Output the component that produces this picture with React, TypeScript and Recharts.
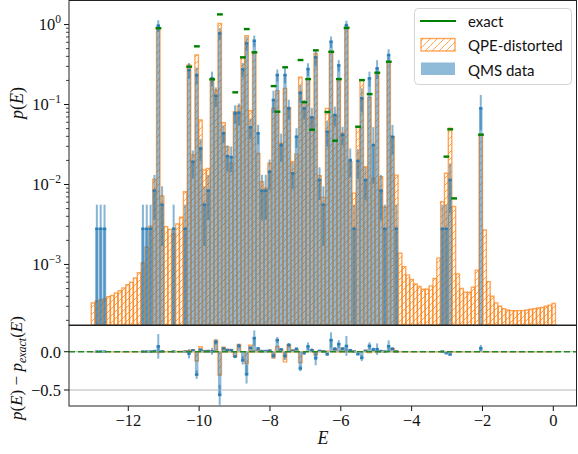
import React from 'react';
import { ComposedChart, Bar, XAxis, YAxis, ErrorBar, Scatter, ReferenceLine } from 'recharts';

// histogram bins (energy), bin i is centred at E_START + (i + 0.5) * BIN_W
const E_START = -13.045;
const BIN_W = 0.1084;
const X_DOMAIN: [number, number] = [-13.674, 0.669];
const P_MIN = 1.75e-4;
const P_MAX = 1.97;
const R_DOMAIN: [number, number] = [-0.709, 0.349];

// QPE-distorted distribution, one value per bin
const qpeDistorted = [
  3.3e-4, 3.5e-4, 3.6e-4, 3.7e-4, 3.96e-4, 4.1e-4, 4.4e-4, 4.7e-4, 5.1e-4, 5.6e-4,
  6.0e-4, 6.8e-4, 7.9e-4, 1.05e-3, 1.64e-3, 3.0e-3, 0.0116, 0.89, 7.2e-3, 2.97e-3,
  2.75e-3, 2.4e-3, 3.2e-3, 3.9e-3, 8.1e-3, 0.312, 0.0234, 0.416, 0.064, 0.0152,
  0.0159, 0.2125, 0.152, 1.035, 0.0592, 0.0297, 0.0184, 0.0813, 0.0958, 0.389,
  0.724, 0.0837, 0.457, 0.0245, 0.0108, 8.97e-3, 0.0184, 0.0896, 0.149, 0.0327,
  0.159, 0.092, 0.0193, 0.024, 0.219, 0.108, 0.208, 0.0704, 0.436, 0.0129,
  6.9e-3, 0.0896, 0.457, 0.074, 0.21, 0.0437, 0.912, 0.0193, 7.8e-3, 0.0528,
  0.202, 0.0167, 0.123, 0.012, 0.245, 0.0125, 5.2e-3, 0.343, 0.0396, 0.0131,
  1.38e-3, 9.4e-4, 7.4e-4, 6.5e-4, 5.7e-4, 5.3e-4, 4.9e-4, 4.9e-4, 5.4e-4, 6.7e-4,
  1.2e-3, 6.1e-3, 0.0138, 0.0504, 5.3e-3, 7.6e-4, 5.0e-4, 4.5e-4, 4.5e-4, 5.2e-4,
  8.5e-4, 0.0416, 2.7e-3, 6.1e-4, 4.0e-4, 3.3e-4, 3.0e-4, 2.8e-4, 2.7e-4, 2.65e-4,
  2.65e-4, 2.65e-4, 2.65e-4, 2.7e-4, 2.75e-4, 2.8e-4, 2.85e-4, 2.9e-4, 3.0e-4, 3.1e-4,
  3.25e-4,
];

// QMS data (null = no counts in that bin)
const qmsData = [
  null, 2.8e-3, 2.8e-3, 2.8e-3, null, null, null, null, null, null,
  null, null, null, 2.8e-3, 2.8e-3, 2.8e-3, 8.4e-3, 0.97, 5.6e-3, null,
  null, 2.8e-3, null, null, 2.8e-3, 0.27, 0.0193, 0.234, 0.0283, 5.6e-3,
  8.4e-3, 0.2125, 0.129, 0.776, 0.0437, 0.0227, 0.022, 0.0776, 0.079, 0.275,
  0.582, 0.0519, 0.627, 0.0437, 8.4e-3, 8.4e-3, 0.0145, 0.114, 0.234, 0.0312,
  0.234, 0.0896, 0.0138, 0.0396, 0.14, 0.0896, 0.278, 0.069, 0.389, 0.0114,
  5.6e-3, 0.0457, 0.61, 0.074, 0.309, 0.0417, 0.986, 0.0202, 2.8e-3, 0.0197,
  0.12, 0.0114, 0.2125, 0.0312, 0.2835, 8.4e-3, 2.8e-3, 0.416, 0.0396, 2.8e-3,
  null, null, null, null, null, null, null, null, null, null,
  null, 2.8e-3, 2.8e-3, 0.0114, null, null, null, null, null, null,
  null, 0.0896, null, null, null, null, null, null, null, null,
  null, null, null, null, null, null, null, null, null, null,
  null,
];

// one-sigma error of the QMS data
const qmsErr = [
  0, 2.8e-3, 2.8e-3, 2.8e-3, 0, 0, 0, 0, 0, 0,
  0, 0, 0, 2.8e-3, 2.8e-3, 2.8e-3, 4.8e-3, 0.16, 3.9e-3, 0,
  0, 2.8e-3, 0, 0, 2.8e-3, 0.06, 0.0073, 0.055, 0.0088, 3.9e-3,
  4.8e-3, 0.045, 0.035, 0.13, 0.011, 0.008, 0.0078, 0.02, 0.024, 0.055,
  0.12, 0.015, 0.1, 0.012, 4.8e-3, 4.8e-3, 0.006, 0.035, 0.04, 0.012,
  0.05, 0.025, 0.005, 0.011, 0.035, 0.025, 0.05, 0.022, 0.09, 0.005,
  3.9e-3, 0.016, 0.1, 0.02, 0.05, 0.011, 0.13, 0.008, 2.8e-3, 0.008,
  0.04, 0.005, 0.045, 0.021, 0.075, 4.8e-3, 2.8e-3, 0.075, 0.016, 2.8e-3,
  0, 0, 0, 0, 0, 0, 0, 0, 0, 0,
  0, 2.8e-3, 2.8e-3, 0.007, 0, 0, 0, 0, 0, 0,
  0, 0.042, 0, 0, 0, 0, 0, 0, 0, 0,
  0, 0, 0, 0, 0, 0, 0, 0, 0, 0,
  0,
];

// exact distribution: bins that hold an eigenvalue and their probability
const exactBins = [17, 25, 27, 31, 33, 37, 39, 40, 42, 47, 48, 50, 54, 55, 56, 57, 58, 61, 62, 63, 64, 66, 69, 70, 72, 74, 77, 92, 93, 94, 101];
const exactVals = [0.9, 0.297, 0.534, 0.2065, 1.34, 0.142, 0.389, 0.878, 0.449, 0.17, 0.0813, 0.292, 0.36, 0.107, 0.208, 0.0484, 0.476, 0.0806, 0.457, 0.0353, 0.208, 0.91, 0.0528, 0.202, 0.135, 0.25, 0.343, 0.0223, 0.049, 0.0067, 0.042];

const xTicks = [-12, -10, -8, -6, -4, -2, 0];
const logTicks = [1e-3, 1e-2, 1e-1, 1];
const residTicks = [-0.5, 0];

const SERIF = "'Liberation Serif', 'DejaVu Serif', serif";
const SANS = "Lato, 'DejaVu Sans', sans-serif";
const BAR_PX = 3.84;

const minorTicks: number[] = [];
[1e-4, 1e-3, 1e-2, 1e-1].forEach((d) => {
  for (let k = 2; k <= 9; k++) {
    const v = k * d;
    if (v >= P_MIN && v <= P_MAX) minorTicks.push(v);
  }
});

const binCenter = (i: number) => E_START + (i + 0.5) * BIN_W;
const exactOf = new Map(exactBins.map((b, k) => [b, exactVals[k]]));

const rows = qpeDistorted.map((q, i) => {
  const m = qmsData[i];
  const err = qmsErr[i];
  const ex = exactOf.get(i) ?? 0;
  return {
    x: binCenter(i),
    q,
    m,
    // keep the lower whisker inside the log axis
    mErr: m == null || !err ? null : [Math.min(err, m - P_MIN * 1.001), err],
    rq: q - ex,
    rm: m == null ? null : m - ex,
    rmErr: m == null || !err ? null : err,
  };
});

const exactPoints = exactBins.map((b, k) => ({ x: binCenter(b), exact: exactVals[k] }));

const fmtNum = (v: number) => (v < 0 ? `\u2212${-v}` : `${v}`);

const LogTick = (props: any) => {
  const { x, y, payload } = props;
  const v = payload.value;
  const major = logTicks.some((t) => Math.abs(t - v) / t < 1e-6);
  const exp = Math.round(Math.log10(v));
  return (
    <g>
      <line x1={x} x2={x - (major ? 5 : 3)} y1={y} y2={y} stroke="#111" strokeWidth={major ? 1 : 0.8} />
      {major && (
        <text x={x - 8} y={y} dy="0.35em" textAnchor="end" fontFamily={SERIF} fontSize={16.5} fill="#111">
          10
          <tspan dy="-0.6em" fontSize={11.5}>{exp < 0 ? `\u2212${-exp}` : `${exp}`}</tspan>
        </text>
      )}
    </g>
  );
};

const QmsBarShape = (props: any) => {
  const { x, y, width, height } = props;
  if (x == null || y == null || !isFinite(y) || !height) return <g />;
  const top = Math.min(y, y + height);
  return (
    <g>
      <rect x={x} y={top} width={width} height={Math.abs(height)} fill="#1f77b4" fillOpacity={0.5} />
      <line x1={x} x2={x + width} y1={y} y2={y} stroke="#1f77b4" strokeWidth={2.5} strokeOpacity={0.85} />
    </g>
  );
};

const ExactDash = (props: any) => {
  const { cx, cy } = props;
  if (cx == null || cy == null || !isFinite(cy)) return <g />;
  return <rect x={cx - 2.9} y={cy - 1.2} width={5.8} height={2.4} fill="#008000" />;
};

export default function App() {
  return (
    <div style={{ position: 'absolute', left: 0, top: 0, width: 578, height: 454, background: '#fff' }}>
      <svg width={0} height={0} style={{ position: 'absolute' }}>
        <defs>
          <pattern id="qpeHatch" patternUnits="userSpaceOnUse" width={7} height={7}>
            <path d="M-1,1 l2,-2 M0,7 l7,-7 M6,8 l2,-2" stroke="#ff7f0e" strokeOpacity={0.7} strokeWidth={1} />
          </pattern>
        </defs>
      </svg>

      <div style={{ position: 'absolute', left: 0, top: 0 }}>
        <ComposedChart width={578} height={326} data={rows} margin={{ top: 1, right: 1, bottom: 1, left: 0 }}>
          <XAxis xAxisId="x" dataKey="x" type="number" domain={X_DOMAIN} allowDataOverflow hide />
          <XAxis xAxisId="x2" dataKey="x" type="number" domain={X_DOMAIN} allowDataOverflow hide />
          <YAxis
            yAxisId="p"
            type="number"
            scale="log"
            domain={[P_MIN, P_MAX]}
            allowDataOverflow
            ticks={[...logTicks, ...minorTicks]}
            interval={0}
            tick={(p: any) => <LogTick {...p} />}
            tickLine={false}
            axisLine={false}
            tickSize={0}
            tickMargin={0}
            width={69}
          />
          <Bar xAxisId="x" yAxisId="p" dataKey="q" barSize={BAR_PX} fill="url(#qpeHatch)" stroke="#ff7f0e" strokeOpacity={0.7} strokeWidth={1.4} isAnimationActive={false} />
          <Bar xAxisId="x2" yAxisId="p" dataKey="m" barSize={BAR_PX} shape={QmsBarShape} isAnimationActive={false}>
            <ErrorBar dataKey="mErr" width={0} stroke="#1f77b4" strokeWidth={2} strokeOpacity={0.55} isAnimationActive={false} />
          </Bar>
          <Scatter xAxisId="x" yAxisId="p" data={exactPoints} dataKey="exact" shape={ExactDash} isAnimationActive={false} />
        </ComposedChart>
      </div>

      <div style={{ position: 'absolute', left: 0, top: 300 }}>
        <ComposedChart width={578} height={154} data={rows} margin={{ top: 25, right: 1, bottom: 0, left: 0 }}>
          <XAxis
            xAxisId="x"
            dataKey="x"
            type="number"
            domain={X_DOMAIN}
            allowDataOverflow
            ticks={xTicks}
            interval={0}
            tickFormatter={fmtNum}
            tick={{ fontFamily: SERIF, fontSize: 16.5, fill: '#111' }}
            tickLine={{ stroke: '#111' }}
            tickSize={5}
            tickMargin={3}
            axisLine={false}
            height={48}
          />
          <XAxis xAxisId="x2" dataKey="x" type="number" domain={X_DOMAIN} allowDataOverflow hide />
          <YAxis
            yAxisId="r"
            type="number"
            domain={R_DOMAIN}
            allowDataOverflow
            ticks={residTicks}
            interval={0}
            tickFormatter={(v: number) => (v === 0 ? '0.0' : fmtNum(v))}
            tick={{ fontFamily: SERIF, fontSize: 16.5, fill: '#111' }}
            tickLine={{ stroke: '#111' }}
            tickSize={5}
            tickMargin={3}
            axisLine={false}
            width={69}
          />
          <ReferenceLine xAxisId="x" yAxisId="r" y={-0.5} stroke="#cccccc" strokeWidth={1.5} />
          <ReferenceLine xAxisId="x" yAxisId="r" y={0} stroke="#bbbbbb" strokeWidth={1} />
          <Bar xAxisId="x" yAxisId="r" dataKey="rq" barSize={BAR_PX} fill="url(#qpeHatch)" stroke="#ff7f0e" strokeOpacity={0.7} strokeWidth={1.4} isAnimationActive={false} />
          <Bar xAxisId="x2" yAxisId="r" dataKey="rm" barSize={BAR_PX} shape={QmsBarShape} isAnimationActive={false}>
            <ErrorBar dataKey="rmErr" width={0} stroke="#1f77b4" strokeWidth={2} strokeOpacity={0.55} isAnimationActive={false} />
          </Bar>
          <ReferenceLine xAxisId="x" yAxisId="r" y={0} stroke="#228b22" strokeWidth={1.4} strokeDasharray="6 3" />
        </ComposedChart>
      </div>

      <svg width={578} height={454} style={{ position: 'absolute', left: 0, top: 0, pointerEvents: 'none' }}>
        <rect x={69} y={0.5} width={507.5} height={324.5} fill="none" stroke="#222" strokeWidth={1} />
        <rect x={69} y={325.5} width={507.5} height={80.5} fill="none" stroke="#222" strokeWidth={1} />

        <text transform="translate(23,103) rotate(-90)" textAnchor="middle" fontFamily={SERIF} fontSize={18} fill="#111">
          <tspan fontStyle="italic">p</tspan>(<tspan fontStyle="italic">E</tspan>)
        </text>
        <text transform="translate(22,368) rotate(-90)" textAnchor="middle" fontFamily={SERIF} fontSize={17} fill="#111">
          <tspan fontStyle="italic">p</tspan>(<tspan fontStyle="italic">E</tspan>) {'\u2212'} <tspan fontStyle="italic">p</tspan>
          <tspan fontStyle="italic" fontSize={12} dy={4}>exact</tspan>
          <tspan dy={-4}>(</tspan><tspan fontStyle="italic">E</tspan>)
        </text>
        <text x={323} y={444} textAnchor="middle" fontFamily={SERIF} fontSize={18} fontStyle="italic" fill="#111">E</text>

        <g>
          <rect x={414.5} y={8.5} width={157} height={76} rx={4} fill="#fff" fillOpacity={0.85} stroke="#d3d3d3" strokeWidth={1} />
          <line x1={420} x2={456} y1={21} y2={21} stroke="#008000" strokeWidth={2} />
          <rect x={421} y={38.5} width={34} height={12.5} fill="url(#qpeHatch)" stroke="#ff7f0e" strokeOpacity={0.7} strokeWidth={1.4} />
          <rect x={421} y={62.5} width={34} height={12.5} fill="#1f77b4" fillOpacity={0.5} />
          <text x={468} y={27} fontFamily={SANS} fontSize={15} fill="#111">exact</text>
          <text x={468} y={51} fontFamily={SANS} fontSize={15} fill="#111">QPE-distorted</text>
          <text x={468} y={75.5} fontFamily={SANS} fontSize={15} fill="#111">QMS data</text>
        </g>
      </svg>
    </div>
  );
}
